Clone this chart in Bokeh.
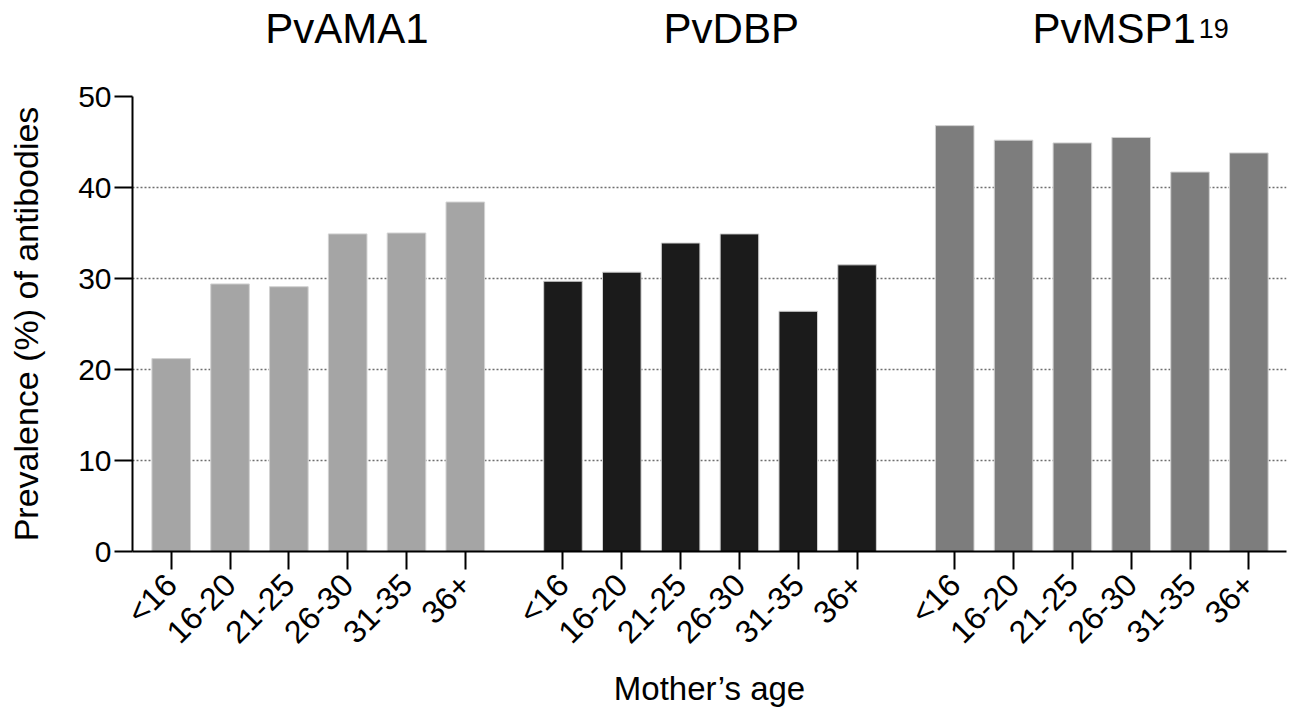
import math
from bokeh.plotting import figure
from bokeh.layouts import column
from bokeh.models import ColumnDataSource, FixedTicker, Range1d
from bokeh.core.properties import value
from bokeh.embed import file_html
from bokeh.resources import INLINE

antigens = ["PvAMA1", "PvDBP", "PvMSP1"]
ages = ["<16", "16-20", "21-25", "26-30", "31-35", "36+"]
ama1 = [21.2, 29.4, 29.1, 34.9, 35.0, 38.4]
dbp = [29.7, 30.7, 33.9, 34.9, 26.4, 31.5]
msp1 = [46.8, 45.2, 44.9, 45.5, 41.7, 43.8]
y_ticks = [0, 10, 20, 30, 40, 50]

series = [ama1, dbp, msp1]
colors = ["#a5a5a5", "#1b1b1b", "#7d7d7d"]
group_step = 6.66
FONT = "Liberation Sans"

x_range = Range1d(-0.658, 18.96)

# ---- title strip
top = figure(width=1291, height=80, output_backend="svg", toolbar_location=None,
             x_range=x_range, y_range=Range1d(0, 80),
             x_axis_location=None, y_axis_location=None,
             min_border_left=132, min_border_right=5, min_border_top=0, min_border_bottom=0)
top.outline_line_color = None
top.xgrid.visible = False
top.ygrid.visible = False
title_src = ColumnDataSource(dict(x=[1.60, 8.37, 14.64], y=[52, 52, 52], t=antigens))
top.text(x="x", y="y", text="t", source=title_src, text_font=value(FONT),
         text_font_size="42px", text_baseline="alphabetic", text_align="left", text_color="black")
sub_src = ColumnDataSource(dict(x=[17.47], y=[52], t=["19"]))
top.text(x="x", y="y", text="t", source=sub_src, text_font=value(FONT),
         text_font_size="27px", text_baseline="alphabetic", text_align="left", text_color="black")

# ---- main chart
p = figure(width=1291, height=629, output_backend="svg", toolbar_location=None,
           x_range=x_range, y_range=Range1d(0, 50),
           min_border_left=132, min_border_right=5, min_border_top=16, min_border_bottom=156)
p.outline_line_color = None

xs_all, labels_all = [], []
for g, vals in enumerate(series):
    xs = [round(g * group_step + i, 2) for i in range(len(ages))]
    src = ColumnDataSource(dict(x=xs, top=vals))
    p.vbar(x="x", top="top", bottom=0, width=0.656, source=src,
           fill_color=colors[g], line_color="#d2d2d2", line_width=1)
    xs_all += xs
    labels_all += ages

p.xaxis.ticker = FixedTicker(ticks=xs_all)
p.xaxis.major_label_overrides = {x: l for x, l in zip(xs_all, labels_all)}
p.xaxis.major_label_orientation = math.pi / 4
p.xaxis.major_label_text_font = FONT
p.xaxis.major_label_text_font_size = "32px"
p.xaxis.major_label_text_color = "black"
p.xaxis.major_label_standoff = 10
p.xaxis.axis_label = "Mother\u2019s age"
p.xaxis.axis_label_text_font = FONT
p.xaxis.axis_label_text_font_size = "33px"
p.xaxis.axis_label_text_font_style = "normal"
p.xaxis.axis_label_text_color = "black"
p.xaxis.axis_label_standoff = 4

p.yaxis.ticker = FixedTicker(ticks=y_ticks)
p.yaxis.major_label_text_font = FONT
p.yaxis.major_label_text_font_size = "30px"
p.yaxis.major_label_text_color = "black"
p.yaxis.major_label_standoff = 3
p.yaxis.axis_label = "Prevalence (%) of antibodies"
p.yaxis.axis_label_text_font = FONT
p.yaxis.axis_label_text_font_size = "34px"
p.yaxis.axis_label_text_font_style = "normal"
p.yaxis.axis_label_text_color = "black"
p.yaxis.axis_label_standoff = 30

for ax in (p.xaxis, p.yaxis):
    ax.axis_line_width = 2
    ax.axis_line_color = "black"
    ax.major_tick_line_width = 2
    ax.major_tick_line_color = "black"
    ax.major_tick_out = 18
    ax.major_tick_in = 0
    ax.minor_tick_line_color = None

p.xgrid.grid_line_color = None
p.ygrid.ticker = FixedTicker(ticks=[10, 20, 30, 40, 50])
p.ygrid.grid_line_color = "#6e6e6e"
p.ygrid.grid_line_width = 1.6
p.ygrid.grid_line_dash = "2 2"

layout = column(top, p, spacing=0)
open("out.html", "w").write(file_html(layout, INLINE))
